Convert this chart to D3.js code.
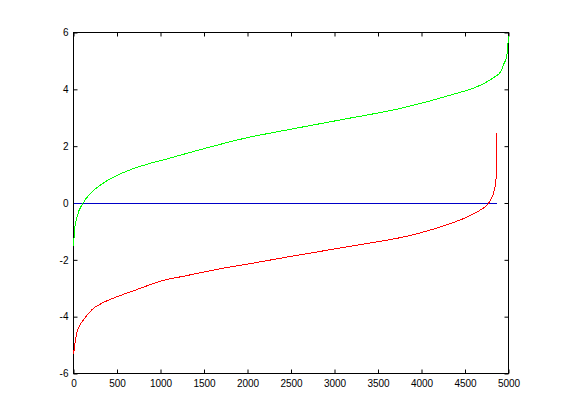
<!DOCTYPE html>
<html>
<head>
<meta charset="utf-8">
<script src="https://cdn.jsdelivr.net/npm/d3@7"></script>
<style>
  body { margin: 0; background: #fff; }
  .tick text { font-family: "Liberation Sans", Arial, sans-serif; font-size: 10px; fill: #000; }
</style>
</head>
<body>
<div id="chart"></div>
<script>
// values (index, value)
var greenX = [1, 12, 42, 113, 198, 313, 543, 887, 1000, 1424, 2000, 2382, 3148, 3761, 4336, 4680, 4833, 4910, 4948, 4979, 5000];
var greenY = [-1.50, -0.95, -0.47, 0.01, 0.35, 0.64, 1.03, 1.40, 1.49, 1.85, 2.30, 2.53, 2.97, 3.33, 3.80, 4.15, 4.42, 4.62, 4.91, 5.14, 5.86];

var redX = [1, 10, 45, 121, 217, 351, 543, 734, 1002, 1309, 1692, 2075, 2477, 3148, 3914, 4297, 4527, 4680, 4757, 4795, 4833, 4856, 4862, 4865, 4867];
var redY = [-5.32, -5.09, -4.50, -4.09, -3.74, -3.49, -3.25, -3.04, -2.75, -2.55, -2.31, -2.11, -1.89, -1.54, -1.11, -0.76, -0.49, -0.24, -0.06, 0.12, 0.41, 0.82, 1.20, 1.55, 2.46];

var zeroX = [1, 4867];
var zeroY = [0, 0];

var xTicks = [0, 500, 1000, 1500, 2000, 2500, 3000, 3500, 4000, 4500, 5000];
var yTicks = [-6, -4, -2, 0, 2, 4, 6];

var width = 561, height = 420;
var plotL = 73.5, plotR = 508.5, plotT = 32.5, plotB = 373.5;

var svg = d3.select("#chart").append("svg")
    .attr("width", width)
    .attr("height", height);

svg.append("rect").attr("width", width).attr("height", height).attr("fill", "#fff");

var x = d3.scaleLinear().domain([0, 5000]).range([plotL, plotR]);
var y = d3.scaleLinear().domain([-6, 6]).range([plotB, plotT]);

function pts(xs, ys) { return xs.map(function(d, i) { return [d, ys[i]]; }); }

var line = d3.line()
    .curve(d3.curveMonotoneX)
    .x(function(d) { return x(d[0]); })
    .y(function(d) { return y(d[1]); });

var fmt = function(d) { return String(d); };

// axes, ticks pointing inward on all four sides
svg.append("g").attr("transform", "translate(0," + plotB + ")")
    .call(d3.axisBottom(x).tickValues(xTicks).tickFormat(fmt).tickSize(-4).tickPadding(6))
    .call(function(g) { g.select(".domain").remove(); });
svg.append("g").attr("transform", "translate(0," + plotT + ")")
    .call(d3.axisTop(x).tickValues(xTicks).tickFormat("").tickSize(-4))
    .call(function(g) { g.select(".domain").remove(); });
svg.append("g").attr("transform", "translate(" + plotL + ",0)")
    .call(d3.axisLeft(y).tickValues(yTicks).tickFormat(fmt).tickSize(-4).tickPadding(5))
    .call(function(g) { g.select(".domain").remove(); });
svg.append("g").attr("transform", "translate(" + plotR + ",0)")
    .call(d3.axisRight(y).tickValues(yTicks).tickFormat("").tickSize(-4))
    .call(function(g) { g.select(".domain").remove(); });

svg.append("rect")
    .attr("x", plotL).attr("y", plotT)
    .attr("width", plotR - plotL).attr("height", plotB - plotT)
    .attr("fill", "none").attr("stroke", "#000").attr("stroke-width", 1);

svg.append("path").datum(pts(zeroX, zeroY))
    .attr("d", line).attr("fill", "none").attr("stroke", "#0000c8").attr("stroke-width", 1)
    .attr("shape-rendering", "crispEdges");
svg.append("path").datum(pts(greenX, greenY))
    .attr("d", line).attr("fill", "none").attr("stroke", "#00ff00").attr("stroke-width", 1)
    .attr("shape-rendering", "crispEdges");
svg.append("path").datum(pts(redX, redY))
    .attr("d", line).attr("fill", "none").attr("stroke", "#ff0000").attr("stroke-width", 1)
    .attr("shape-rendering", "crispEdges");
</script>
</body>
</html>
